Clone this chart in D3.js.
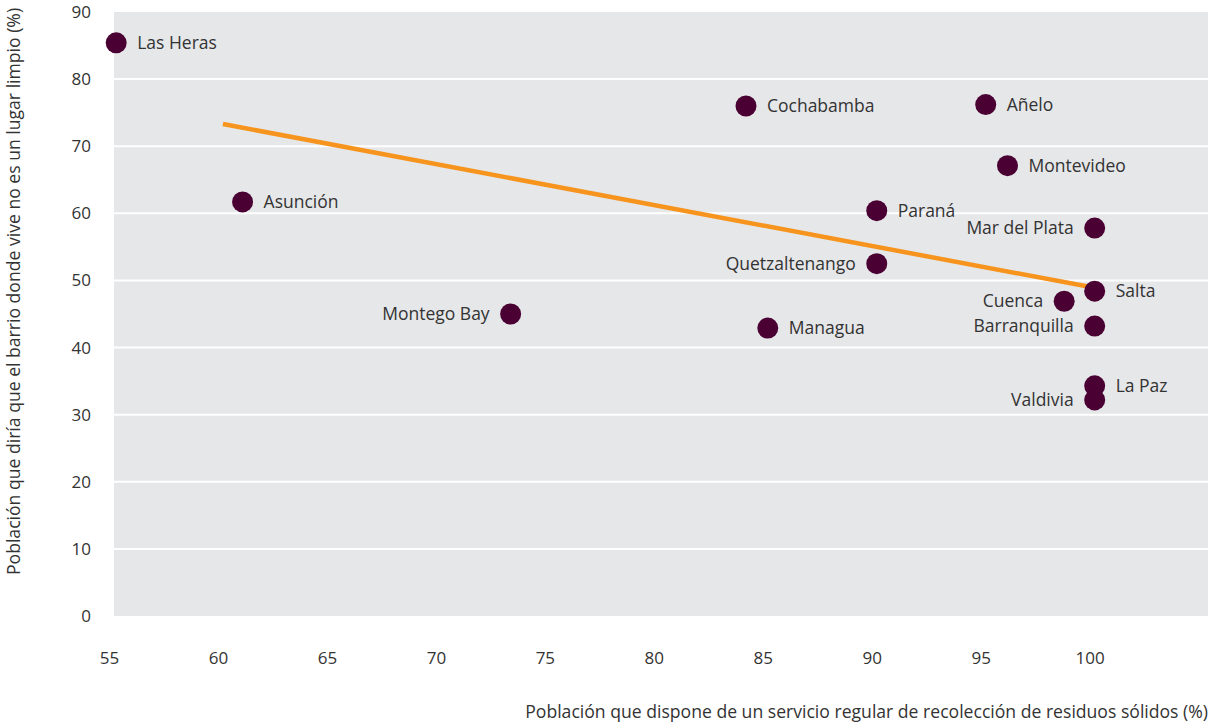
<!DOCTYPE html>
<html>
<head>
  <meta charset="utf-8">
  <title>Servicio de recolección vs. percepción de limpieza</title>
  <script src="https://d3js.org/d3.v7.min.js"></script>
  <style>
    body { margin: 0; background: #fff; }
    text { font-family: "Open Sans", sans-serif; fill: #333; }
  </style>
</head>
<body>
<script>
  // Data
  var cities = ["Las Heras", "Cochabamba", "Añelo", "Montevideo", "Asunción", "Paraná",
                "Mar del Plata", "Quetzaltenango", "Salta", "Cuenca", "Montego Bay",
                "Managua", "Barranquilla", "La Paz", "Valdivia"];
  var servicio = [55.1, 84.0, 95.0, 96.0, 60.9, 90.0, 100, 90.0, 100, 98.6, 73.2, 85.0, 100, 100, 100];
  var noLimpio = [85.4, 76.0, 76.2, 67.1, 61.7, 60.4, 57.8, 52.5, 48.4, 46.9, 45.0, 42.9, 43.2, 34.3, 32.2];
  var leftLabels = ["Mar del Plata", "Quetzaltenango", "Cuenca", "Montego Bay", "Barranquilla", "Valdivia"];
  var trendX = [60, 100];
  var trendY = [73.3, 48.9];
  var xTicks = [55, 60, 65, 70, 75, 80, 85, 90, 95, 100];
  var yTicks = [0, 10, 20, 30, 40, 50, 60, 70, 80, 90];

  var width = 1208, height = 724;
  var margin = {top: 12, right: 0, bottom: 108, left: 114};
  var w = width - margin.left - margin.right;
  var h = height - margin.top - margin.bottom;

  var svg = d3.select("body").append("svg")
      .attr("width", width).attr("height", height);
  var g = svg.append("g")
      .attr("transform", "translate(" + margin.left + "," + margin.top + ")");

  var x = d3.scaleLinear().domain([55, 105.2]).range([0, w]);
  var y = d3.scaleLinear().domain([0, 90]).range([h, 0]);

  // background
  g.append("rect").attr("width", w).attr("height", h).attr("fill", "#e6e7e9");

  // grid
  g.selectAll(".grid").data(yTicks.slice(1, -1)).enter().append("line")
      .attr("x1", 0).attr("x2", w)
      .attr("y1", function(d) { return y(d); }).attr("y2", function(d) { return y(d); })
      .attr("stroke", "#fff").attr("stroke-width", 2);

  // axes (labels only)
  var yAxis = g.append("g").attr("transform", "translate(-23,0)")
      .call(d3.axisLeft(y).tickValues(yTicks).tickSize(0).tickPadding(0));
  yAxis.select(".domain").remove();
  yAxis.selectAll("text").style("font-size", "17px").attr("fill", "#333")
      .attr("font-family", "Lato, sans-serif");

  var xAxis = g.append("g").attr("transform", "translate(-5," + (h + 36) + ")")
      .call(d3.axisBottom(x).tickValues(xTicks).tickSize(0).tickPadding(0));
  xAxis.select(".domain").remove();
  xAxis.selectAll("text").style("font-size", "17px").attr("fill", "#333")
      .attr("font-family", "Lato, sans-serif");

  // trend line
  var line = d3.line()
      .x(function(d, i) { return x(trendX[i]); })
      .y(function(d) { return y(d); });
  g.append("path").datum(trendY)
      .attr("d", line)
      .attr("fill", "none")
      .attr("stroke", "#f7941d")
      .attr("stroke-width", 4.5);

  var pts = cities.map(function(c, i) {
    return {name: c, x: servicio[i], y: noLimpio[i], left: leftLabels.indexOf(c) >= 0};
  });

  g.selectAll(".dot").data(pts).enter().append("circle")
      .attr("cx", function(d) { return x(d.x); })
      .attr("cy", function(d) { return y(d.y); })
      .attr("r", 10.5)
      .attr("fill", "#4a0033");

  g.selectAll(".lbl").data(pts).enter().append("text")
      .attr("x", function(d) { return x(d.x) + (d.left ? -21 : 21); })
      .attr("y", function(d) { return y(d.y); })
      .attr("dy", "0.35em")
      .attr("text-anchor", function(d) { return d.left ? "end" : "start"; })
      .style("font-size", "17.5px")
      .text(function(d) { return d.name; });

  // axis titles
  svg.append("text")
      .attr("x", 1208).attr("y", 718)
      .attr("text-anchor", "end")
      .style("font-size", "17.6px")
      .text("Población que dispone de un servicio regular de recolección de residuos sólidos (%)");

  svg.append("text")
      .attr("transform", "translate(20,575) rotate(-90)")
      .attr("text-anchor", "start")
      .style("font-size", "17.6px")
      .text("Población que diría que el barrio donde vive no es un lugar limpio (%)");
</script>
</body>
</html>
